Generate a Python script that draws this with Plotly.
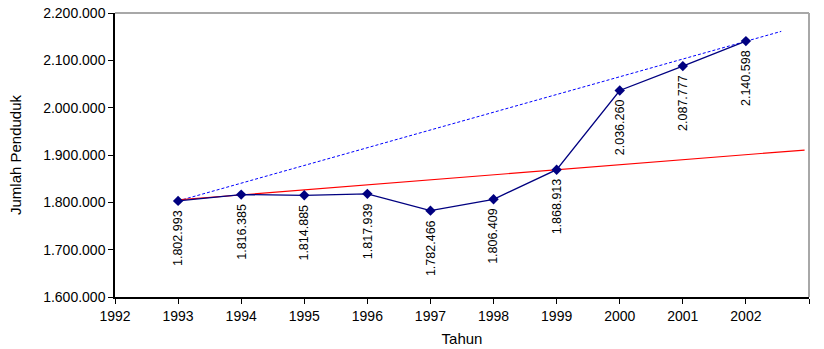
import plotly.graph_objects as go

# Population per year
tahun = [1993, 1994, 1995, 1996, 1997, 1998, 1999, 2000, 2001, 2002]
jumlah = [1802993, 1816385, 1814885, 1817939, 1782466, 1806409,
          1868913, 2036260, 2087777, 2140598]
label = ["1.802.993", "1.816.385", "1.814.885", "1.817.939", "1.782.466",
         "1.806.409", "1.868.913", "2.036.260", "2.087.777", "2.140.598"]

# Guide lines (start and end points)
garis_atas_x = [1993, 2002.56]
garis_atas_y = [1802993, 2161200]
garis_bawah_x = [1993, 2002.93]
garis_bawah_y = [1805000, 1910500]

# Axis ticks
x_ticks = list(range(1992, 2004))
y_ticks = [1600000, 1700000, 1800000, 1900000, 2000000, 2100000, 2200000]
y_tick_text = ["1.600.000", "1.700.000", "1.800.000", "1.900.000",
               "2.000.000", "2.100.000", "2.200.000"]

FONT = "Liberation Sans, Arial, sans-serif"

fig = go.Figure()

fig.add_trace(go.Scatter(
    x=garis_atas_x, y=garis_atas_y, mode="lines",
    line=dict(color="#0000FF", width=1, dash="3px,2px"),
    hoverinfo="skip", showlegend=False,
))
fig.add_trace(go.Scatter(
    x=garis_bawah_x, y=garis_bawah_y, mode="lines",
    line=dict(color="#FF0000", width=1.2),
    hoverinfo="skip", showlegend=False,
))
fig.add_trace(go.Scatter(
    x=tahun, y=jumlah, mode="lines+markers",
    line=dict(color="#000080", width=1.3),
    marker=dict(symbol="diamond", size=8, color="#000080"),
    showlegend=False,
))

for t, v, s in zip(tahun, jumlah, label):
    fig.add_annotation(
        x=t, y=v, text=s, textangle=-90, showarrow=False,
        xanchor="center", yanchor="top", yshift=-7,
        font=dict(family=FONT, size=12.5, color="#000000"),
    )

# Grey frame on the top and right
fig.add_shape(type="line", xref="paper", yref="paper", x0=0, x1=1, y0=1, y1=1,
              line=dict(color="#A8A8A8", width=2))
fig.add_shape(type="line", xref="paper", yref="paper", x0=1, x1=1, y0=0, y1=1,
              line=dict(color="#A8A8A8", width=2))

fig.update_layout(
    width=824, height=349,
    margin=dict(l=115, r=15, t=13, b=52),
    paper_bgcolor="white", plot_bgcolor="white",
    font=dict(family=FONT, size=14, color="#000000"),
    showlegend=False,
)
fig.update_xaxes(
    range=[1992, 2003], tickvals=x_ticks, ticktext=[str(v) for v in x_ticks],
    showgrid=False, zeroline=False, showline=True, linecolor="#000000",
    linewidth=1.5, ticks="outside", ticklen=5, tickcolor="#000000",
    tickfont=dict(family=FONT, size=14), automargin=False,
    title=dict(text="Tahun", font=dict(family=FONT, size=15), standoff=11),
)
fig.update_yaxes(
    range=[1600000, 2200000], tickvals=y_ticks, ticktext=y_tick_text,
    showgrid=False, zeroline=False, showline=True, linecolor="#000000",
    linewidth=1.5, ticks="outside", ticklen=5, tickcolor="#000000",
    tickfont=dict(family=FONT, size=14), automargin=False,
    title=dict(text="Jumlah Penduduk", font=dict(family=FONT, size=15), standoff=18),
)

fig.write_html("out.html")
